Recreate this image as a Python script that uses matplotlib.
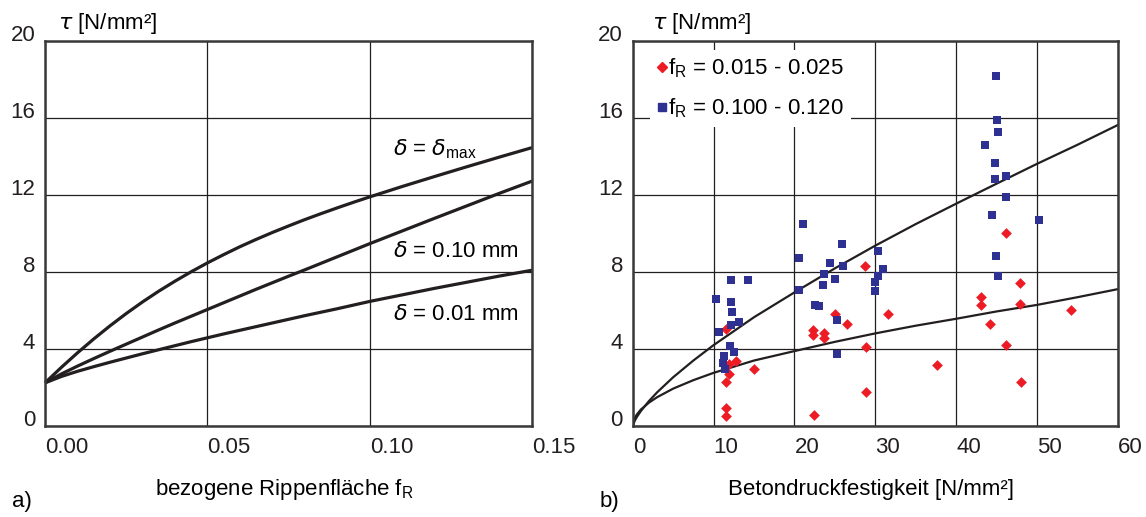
import matplotlib
matplotlib.use("Agg")
import matplotlib.pyplot as plt
from matplotlib.lines import Line2D

plt.rcParams['font.family'] = ['Liberation Sans', 'DejaVu Sans']
plt.rcParams['mathtext.fontset'] = 'dejavusans'

# --- a) bond stress vs. related rib area ---
fr = [0, 0.005, 0.01, 0.015, 0.02, 0.025, 0.03, 0.035,
      0.04, 0.045, 0.05, 0.055, 0.06, 0.065, 0.07, 0.075, 0.08, 0.085,
      0.09, 0.095, 0.10, 0.11, 0.12, 0.13, 0.14, 0.15]
tau_dmax = [2.25, 3.05, 3.81, 4.53, 5.21, 5.85, 6.45, 7.01,
            7.53, 8.02, 8.48, 8.91, 9.32, 9.70, 10.06, 10.40, 10.73, 11.04,
            11.34, 11.63, 11.91, 12.45, 12.97, 13.48, 13.98, 14.47]
tau_d010 = [2.25, 2.71, 3.12, 3.51, 3.89, 4.26, 4.63, 5.0,
            5.36, 5.71, 6.06, 6.41, 6.76, 7.11, 7.45, 7.79, 8.12, 8.46,
            8.8, 9.14, 9.48, 10.14, 10.8, 11.45, 12.1, 12.73]
tau_d001 = [2.25, 2.58, 2.85, 3.09, 3.32, 3.54, 3.76, 3.97,
            4.18, 4.39, 4.59, 4.79, 4.98, 5.17, 5.36, 5.55, 5.74, 5.92,
            6.1, 6.29, 6.48, 6.82, 7.16, 7.48, 7.8, 8.1]

# --- b) bond stress vs. concrete strength ---
red_x = [11.5, 11.9, 12.8, 11.9, 15.0, 11.5, 11.5, 11.5,
         22.3, 22.3, 23.6, 23.6, 25.0, 26.5, 22.4, 28.7, 28.8, 28.8,
         46.2, 47.9, 43.1, 43.1, 47.9, 54.2, 31.5, 44.2, 46.2, 37.6, 48.0]
red_y = [5.04, 3.22, 3.41, 2.72, 2.96, 2.31, 0.94, 0.54,
         5.01, 4.71, 4.85, 4.57, 5.84, 5.30, 0.56, 8.33, 4.10, 1.79,
         10.05, 7.43, 6.72, 6.29, 6.32, 6.06, 5.85, 5.32, 4.24, 3.19, 2.29]
blue_x = [12.2, 14.3, 10.3, 12.2, 12.3, 12.2, 13.2, 10.7, 12.0, 12.5, 11.3, 11.2, 11.4,
          21.0, 25.9, 20.5, 24.4, 26.0, 23.6, 25.0, 23.5, 20.5, 22.5, 23.0, 25.2, 25.3,
          30.3, 30.9, 30.3, 29.9, 30.0,
          44.9, 45.0, 45.1, 43.6, 44.8, 46.2, 44.8, 46.2, 44.4, 50.2, 44.9, 45.1]
blue_y = [7.58, 7.60, 6.63, 6.46, 5.92, 5.28, 5.40, 4.90, 4.16, 3.83, 3.67, 3.26, 2.95,
          10.51, 9.44, 8.71, 8.50, 8.31, 7.90, 7.66, 7.35, 7.07, 6.29, 6.25, 5.53, 3.74,
          9.09, 8.14, 7.81, 7.47, 7.00,
          18.18, 15.9, 15.27, 14.62, 13.68, 12.99, 12.82, 11.9, 10.95, 10.72, 8.83, 7.79]

fc = [0, 0.25, 0.5, 1, 2, 3, 5, 7.5, 10, 15, 20, 25, 30, 35, 40, 45, 50, 55, 60]
fit_high = [0, 0.28, 0.47, 0.78, 1.3, 1.75, 2.54, 3.41, 4.21, 5.66, 6.95, 8.2, 9.38,
            10.5, 11.56, 12.6, 13.63, 14.62, 15.65]
fit_low = [0, 0.42, 0.6, 0.86, 1.22, 1.5, 1.95, 2.39, 2.77, 3.41, 3.9, 4.38, 4.82,
           5.22, 5.58, 5.96, 6.3, 6.7, 7.12]

line_col = '#231f20'
red = '#ed1c24'
blue = '#2e3192'
fs = 16

fig = plt.figure(figsize=(11.46, 5.17), dpi=100)
ax1 = fig.add_axes([0.0393, 0.1757, 0.4250, 0.7447])
ax2 = fig.add_axes([0.5521, 0.1757, 0.4235, 0.7447])


def style_axes(ax, xlim, xticks, xlabels):
    ax.set_xlim(*xlim)
    ax.set_ylim(0, 20)
    ax.set_xticks(xticks)
    ax.set_xticklabels(xlabels)
    ax.set_yticks([0, 4, 8, 12, 16, 20])
    ax.set_yticklabels(['0', '4', '8', '12', '16', '20'])
    ax.tick_params(length=0, labelsize=fs, colors='#231f20')
    ax.tick_params(axis='x', pad=8)
    ax.tick_params(axis='y', pad=7)
    for lab in ax.get_xticklabels():
        lab.set_ha('left')
    for lab in ax.get_yticklabels():
        lab.set_va('baseline')
    ax.grid(True, color=line_col, linewidth=0.9)
    ax.set_axisbelow(True)
    for sp in ax.spines.values():
        sp.set_color('#3a3a3a')
        sp.set_linewidth(1.8)
        sp.set_zorder(5)


style_axes(ax1, (0, 0.15), [0, 0.05, 0.10, 0.15], ['0.00', '0.05', '0.10', '0.15'])
style_axes(ax2, (0, 60), [0, 10, 20, 30, 40, 50, 60],
           ['0', '10', '20', '30', '40', '50', '60'])

# panel a
for ys in (tau_dmax, tau_d010, tau_d001):
    ax1.plot(fr, ys, color=line_col, linewidth=2.3, solid_joinstyle='round',
             solid_capstyle='butt', clip_on=False)
ax1.text(0.1073, 14.06, r'$\delta$ = $\delta_{\mathregular{max}}$', fontsize=fs, va='baseline')
ax1.text(0.1073, 8.78, r'$\delta$ = 0.10 mm', fontsize=fs, va='baseline')
ax1.text(0.1073, 5.49, r'$\delta$ = 0.01 mm', fontsize=fs, va='baseline')

# panel b
ax2.plot(fc, fit_high, color=line_col, linewidth=1.6, solid_joinstyle='round')
ax2.plot(fc, fit_low, color=line_col, linewidth=1.6, solid_joinstyle='round')
ax2.scatter(red_x, red_y, marker='D', s=30, color=red, linewidths=0, zorder=3)
ax2.scatter(blue_x, blue_y, marker='s', s=36, color=blue, linewidths=0, zorder=3)

handles = [Line2D([], [], linestyle='none', marker='D', markersize=5.5, color=red),
           Line2D([], [], linestyle='none', marker='s', markersize=6, color=blue)]
leg = ax2.legend(handles, [r'f$_\mathregular{R}$ = 0.015 - 0.025',
                           r'f$_\mathregular{R}$ = 0.100 - 0.120'],
                 loc='upper left', bbox_to_anchor=(0.036, 0.978), fontsize=fs,
                 frameon=True, fancybox=False, framealpha=1, facecolor='white',
                 edgecolor='none', borderpad=0.3, handlelength=0.5,
                 handletextpad=0.0, labelspacing=0.75, borderaxespad=0)
leg.set_zorder(4)

# axis titles
for ax, dx in ((ax1, 13), (ax2, 19)):
    ax.annotate(r'$\tau$ [N/mm²]', xy=(0, 1), xycoords='axes fraction',
                xytext=(dx, 12), textcoords='offset pixels', fontsize=fs,
                va='baseline', ha='left')

fig.text(284 / 1146, 1 - 490 / 517, r'bezogene Rippenfläche f$_\mathregular{R}$',
         fontsize=fs, ha='center', va='center')
fig.text(871 / 1146, 1 - 490 / 517, 'Betondruckfestigkeit [N/mm²]',
         fontsize=fs, ha='center', va='center')
fig.text(12 / 1146, 1 - 502 / 517, 'a)', fontsize=fs, ha='left', va='center')
fig.text(600 / 1146, 1 - 502 / 517, 'b)', fontsize=fs, ha='left', va='center')

fig.savefig('out.png', dpi=100)
